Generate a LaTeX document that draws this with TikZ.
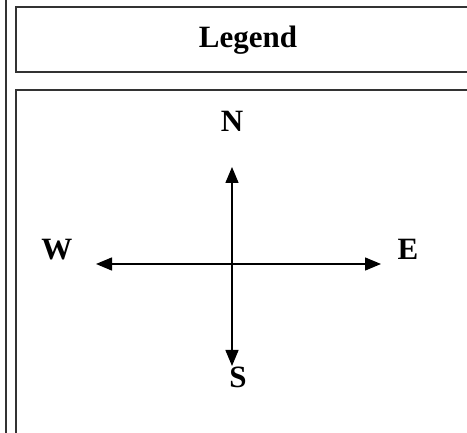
\documentclass[tikz,border=0pt]{standalone}
\usepackage{fontspec}
\setmainfont{Liberation Serif}
\usepackage{tikz}
\usetikzlibrary{arrows.meta}

\begin{document}
\begin{tikzpicture}[x=1pt, y=-1pt, >={Triangle[length=16pt, width=13pt]},
    frame/.style={draw=black!80, line width=1.5pt},
    dirlabel/.style={anchor=base, font=\fontsize{31}{36}\selectfont\bfseries}]
    \useasboundingbox (0,0) rectangle (467,433);
    \clip (0,0) rectangle (467,433);

    % Frames
    \draw[frame] (6,-5) -- (6,440);
    \draw[frame] (16,7) rectangle (475,72);
    \draw[frame] (16,90) rectangle (475,445);

    % Title
    \node[dirlabel] (title) at (248,48) {Legend};

    % Direction labels
    \node[dirlabel] (n) at (232,132) {N};
    \node[dirlabel] (s) at (238,388) {S};
    \node[dirlabel] (w) at (57,260) {W};
    \node[dirlabel] (e) at (408,260) {E};

    % Arrow ends
    \coordinate (ntip) at (232,167);
    \coordinate (stip) at (232,366);
    \coordinate (wtip) at (96,264);
    \coordinate (etip) at (381,264);

    % Arrows
    \draw[<->, line width=1.5pt] (ntip) -- (stip);
    \draw[<->, line width=1.5pt] (wtip) -- (etip);
\end{tikzpicture}
\end{document}
